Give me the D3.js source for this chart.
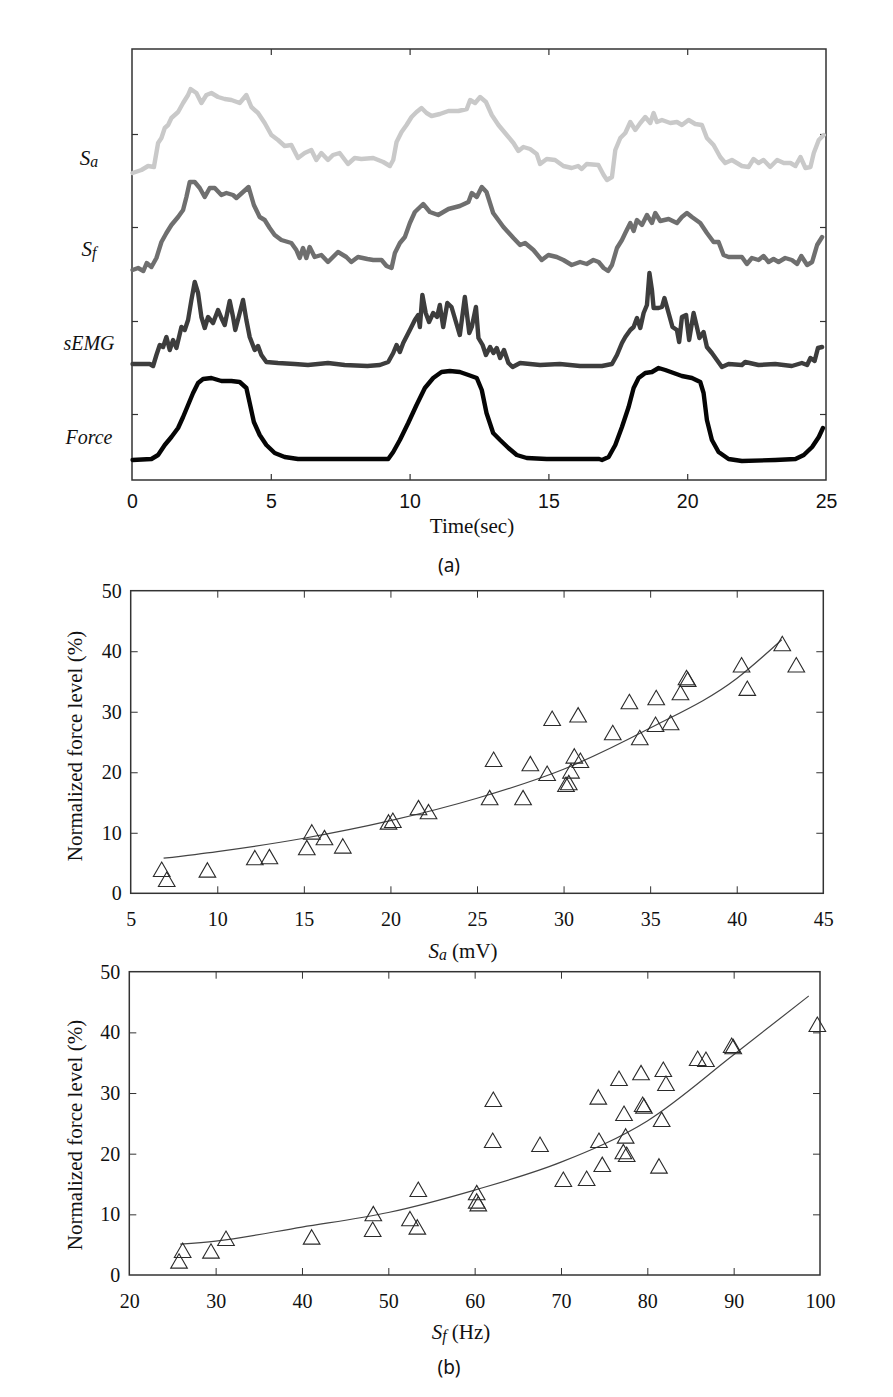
<!DOCTYPE html>
<html><head><meta charset="utf-8">
<script src="https://cdn.jsdelivr.net/npm/d3@7"></script>
<style>body{margin:0;background:#fff}svg{display:block}</style>
</head><body>
<svg id="c" width="893" height="1397"></svg>
<script>
// ---------- panel (a): time traces (arbitrary units) ----------
const timeTicks = [0, 5, 10, 15, 20, 25];
const traceTicks = [66, 159, 253, 346];
const saTrace = [[0.02,307],[0.34,310],[0.58,314],[0.79,313],[0.94,337],[1.06,342],[1.18,352],[1.30,355],[1.42,362],[1.66,368],[1.84,377],[2.02,385],[2.11,391],[2.32,387],[2.50,377],[2.68,385],[2.86,387],[3.10,383],[3.34,381],[3.58,380],[3.88,377],[4.12,385],[4.30,373],[4.54,367],[4.78,357],[5.02,345],[5.26,340],[5.50,334],[5.74,335],[5.98,322],[6.22,327],[6.46,330],[6.64,320],[6.82,327],[7.06,320],[7.24,325],[7.48,327],[7.78,316],[8.02,322],[8.26,321],[8.69,322],[9.05,318],[9.29,314],[9.41,320],[9.53,338],[9.71,348],[9.89,355],[10.07,363],[10.25,368],[10.43,372],[10.61,367],[10.79,364],[11.09,366],[11.40,369],[11.76,369],[12.06,371],[12.18,380],[12.36,377],[12.54,383],[12.75,378],[12.96,365],[13.20,355],[13.50,345],[13.74,337],[13.92,329],[14.10,333],[14.34,331],[14.58,326],[14.70,316],[14.94,321],[15.24,320],[15.54,314],[15.84,312],[16.07,314],[16.20,311],[16.38,316],[16.80,315],[16.99,305],[17.11,300],[17.29,303],[17.41,330],[17.59,342],[17.77,347],[17.95,358],[18.13,350],[18.31,357],[18.49,363],[18.67,357],[18.79,367],[18.91,358],[19.09,360],[19.39,357],[19.63,358],[19.81,355],[20.05,360],[20.29,356],[20.53,355],[20.71,342],[20.95,335],[21.19,323],[21.37,317],[21.61,320],[21.79,317],[21.97,314],[22.21,313],[22.39,321],[22.57,317],[22.75,320],[22.99,313],[23.24,320],[23.48,317],[23.72,317],[23.90,314],[24.08,323],[24.26,312],[24.44,313],[24.56,327],[24.74,340],[24.92,345]];
const sfTrace = [[0.02,210],[0.22,212],[0.41,209],[0.53,217],[0.70,213],[0.88,222],[1.06,238],[1.24,247],[1.42,255],[1.66,263],[1.84,270],[1.96,283],[2.08,298],[2.26,298],[2.44,292],[2.62,283],[2.80,292],[2.98,292],[3.22,285],[3.40,287],[3.64,285],[3.76,282],[4.00,288],[4.20,293],[4.39,275],[4.60,263],[4.78,260],[4.96,252],[5.14,245],[5.38,240],[5.74,237],[5.92,230],[6.04,222],[6.16,232],[6.28,222],[6.40,233],[6.58,223],[6.82,225],[7.06,218],[7.42,228],[7.72,223],[7.90,218],[8.14,223],[8.48,221],[8.69,220],[8.99,220],[9.17,214],[9.35,212],[9.47,227],[9.65,237],[9.83,243],[10.01,257],[10.19,268],[10.49,276],[10.73,268],[11.03,265],[11.40,271],[11.81,274],[12.12,278],[12.24,287],[12.42,283],[12.60,293],[12.77,288],[13.01,267],[13.38,253],[13.74,242],[13.98,235],[14.16,237],[14.46,230],[14.76,220],[15.00,225],[15.30,223],[15.54,220],[15.84,215],[16.14,218],[16.38,216],[16.62,220],[16.81,218],[16.99,212],[17.15,209],[17.29,215],[17.47,232],[17.65,240],[17.77,247],[17.95,257],[18.07,249],[18.19,260],[18.37,255],[18.55,265],[18.73,257],[18.85,267],[19.03,259],[19.33,261],[19.63,257],[19.81,263],[19.99,267],[20.17,263],[20.47,257],[20.71,247],[20.95,238],[21.13,238],[21.31,225],[21.49,223],[21.97,223],[22.15,216],[22.33,222],[22.57,220],[22.75,224],[22.93,218],[23.11,221],[23.29,218],[23.53,222],[23.77,220],[23.96,216],[24.11,224],[24.32,215],[24.50,218],[24.68,235],[24.86,243]];
const semgTrace = [[0.02,116],[0.64,116],[0.76,114],[0.88,125],[1.00,135],[1.12,133],[1.24,143],[1.36,130],[1.48,140],[1.60,132],[1.78,153],[1.90,150],[2.02,160],[2.14,180],[2.26,198],[2.38,187],[2.50,163],[2.62,152],[2.74,163],[2.92,157],[3.10,170],[3.22,162],[3.34,155],[3.52,179],[3.64,163],[3.72,150],[3.88,167],[4.00,180],[4.12,160],[4.24,143],[4.42,130],[4.54,134],[4.66,125],[4.84,118],[5.26,117],[5.86,116],[6.34,115],[7.06,117],[7.66,115],[8.48,114],[8.93,115],[9.23,118],[9.41,127],[9.53,135],[9.65,128],[9.77,137],[10.01,150],[10.19,160],[10.31,165],[10.37,153],[10.46,185],[10.58,167],[10.70,158],[10.85,167],[10.99,163],[11.09,175],[11.21,153],[11.36,177],[11.51,173],[11.67,158],[11.81,145],[11.99,183],[12.15,147],[12.24,153],[12.39,173],[12.48,142],[12.63,135],[12.75,125],[12.90,133],[13.02,127],[13.14,132],[13.26,122],[13.40,130],[13.56,117],[13.71,113],[13.98,117],[14.70,115],[15.41,116],[16.14,114],[16.93,114],[17.29,116],[17.47,125],[17.65,137],[17.77,143],[17.95,150],[18.07,153],[18.19,162],[18.31,152],[18.43,167],[18.55,175],[18.64,207],[18.73,190],[18.79,172],[18.97,172],[19.09,173],[19.18,182],[19.33,167],[19.47,153],[19.63,150],[19.71,138],[19.81,163],[19.96,165],[20.07,140],[20.23,167],[20.35,153],[20.44,142],[20.59,148],[20.71,133],[20.89,127],[21.07,120],[21.25,113],[21.49,116],[21.97,115],[22.09,118],[22.57,115],[23.17,116],[23.77,114],[24.13,117],[24.32,115],[24.44,122],[24.59,119],[24.71,132],[24.86,133]];
const forceTrace = [[0.02,20],[0.70,21],[0.94,25],[1.18,35],[1.42,43],[1.66,52],[1.84,63],[2.02,75],[2.20,87],[2.38,97],[2.56,101],[2.86,102],[3.22,99],[3.58,99],[3.88,98],[4.12,92],[4.24,77],[4.39,58],[4.60,45],[4.84,35],[5.14,27],[5.50,23],[5.98,21],[7.06,21],[8.48,21],[9.23,21],[9.41,28],[9.65,40],[9.95,57],[10.25,75],[10.55,92],[10.85,102],[11.15,108],[11.45,109],[11.81,108],[12.12,105],[12.42,102],[12.60,90],[12.77,67],[13.01,47],[13.26,40],[13.56,32],[13.86,25],[14.22,22],[14.94,21],[16.83,21],[16.93,20],[17.17,23],[17.41,35],[17.65,53],[17.89,73],[18.07,92],[18.25,102],[18.49,107],[18.73,108],[18.97,112],[19.21,110],[19.51,107],[19.81,104],[20.17,102],[20.47,98],[20.59,87],[20.71,60],[20.89,40],[21.13,28],[21.49,21],[21.97,19],[23.17,20],[23.90,21],[24.20,25],[24.50,33],[24.74,43],[24.89,52]];

// ---------- panel (b) scatter data ----------
const forceTicks = [0, 10, 20, 30, 40, 50];
const saTicks = [5, 10, 15, 20, 25, 30, 35, 40, 45];
const sfTicks = [20, 30, 40, 50, 60, 70, 80, 90, 100];
const saX = [6.79,7.08,9.43,12.17,13.01,15.46,15.17,16.19,17.25,19.89,20.14,21.62,22.2,25.73,25.96,27.66,28.08,29.05,29.34,30.84,30.14,30.3,30.43,30.62,30.97,32.84,33.8,34.4,35.35,35.31,36.18,36.75,37.1,37.17,40.28,40.61,42.63,43.44];
const saY = [3.57,1.92,3.47,5.5,5.67,9.75,7.16,8.81,7.44,11.4,11.67,13.77,13.1,15.42,21.75,15.42,21.04,19.44,28.53,29.09,17.62,17.9,19.83,22.31,21.59,26.17,31.29,25.34,31.95,27.54,27.82,32.78,35.26,34.98,37.36,33.49,40.88,37.36];
const saFit = [[6.9,5.8],[10,6.9],[15,9.1],[20,12.0],[25,15.7],[30,20.5],[35,27.3],[40,35.5],[42.6,41.9]];
const sfX = [25.76,26.18,29.46,31.2,41.12,48.26,48.19,52.51,53.36,53.47,60.24,60.24,60.42,62.16,62.09,67.57,70.27,72.97,74.32,74.4,74.78,76.72,77.3,77.49,77.22,77.61,79.27,79.46,79.61,81.35,81.66,81.85,82.16,85.83,86.79,89.77,89.95,99.69];
const sfY = [1.92,3.68,3.57,5.66,5.88,9.73,7.14,8.9,7.53,13.74,13.19,11.82,11.37,28.57,21.81,21.15,15.38,15.55,28.96,21.81,17.85,32.03,26.26,22.53,19.95,19.51,32.97,27.75,27.47,17.59,25.27,33.52,31.21,35.33,35.17,37.48,37.26,40.94];
const sfFit = [[25.9,5.1],[30,5.6],[40,7.9],[50,10.3],[60,14.0],[70,18.6],[80,25.4],[90,36.3],[98.7,46.0]];

const svg = d3.select("#c");
const serif = "'Liberation Serif','Times New Roman',serif";
const sans = "'Liberation Sans',Arial,sans-serif";
const frameCol = "#333";

// ===== Panel (a) =====
const xA = d3.scaleLinear().domain([0,25]).range([132,826]);
const yA = d3.scaleLinear().domain([0,431]).range([480,49]);
const gA = svg.append("g");
gA.append("rect").attr("x",132).attr("y",49).attr("width",694).attr("height",431)
  .attr("fill","none").attr("stroke",frameCol).attr("stroke-width",1.5);
const innerT = timeTicks.filter(d=>d>0&&d<25);
gA.append("g").attr("transform","translate(0,480)")
  .call(d3.axisBottom(xA).tickValues(timeTicks).tickSize(-6).tickPadding(14))
  .call(g=>{g.select(".domain").remove();
    g.selectAll(".tick line").attr("stroke",frameCol).attr("stroke-width",1.2).filter(d=>d===0||d===25).remove();
    g.selectAll("text").attr("font-family",sans).attr("font-size",19.5).attr("fill","#111");});
gA.append("g").attr("transform","translate(0,49)")
  .call(d3.axisTop(xA).tickValues(innerT).tickSize(-6).tickFormat(""))
  .call(g=>{g.select(".domain").remove();g.selectAll(".tick line").attr("stroke",frameCol).attr("stroke-width",1.2);});
gA.append("g").attr("transform","translate(132,0)")
  .call(d3.axisLeft(yA).tickValues(traceTicks).tickSize(-6).tickFormat(""))
  .call(g=>{g.select(".domain").remove();g.selectAll(".tick line").attr("stroke",frameCol).attr("stroke-width",1.2);});
gA.append("g").attr("transform","translate(826,0)")
  .call(d3.axisRight(yA).tickValues(traceTicks).tickSize(-6).tickFormat(""))
  .call(g=>{g.select(".domain").remove();g.selectAll(".tick line").attr("stroke",frameCol).attr("stroke-width",1.2);});

const lineA = d3.line().x(d=>xA(d[0])).y(d=>yA(d[1]));
const traces = [
  {data:saTrace, color:"#c9c9c9"},
  {data:sfTrace, color:"#6f6f6f"},
  {data:semgTrace, color:"#3d3d3d"},
  {data:forceTrace, color:"#050505"}
];
traces.forEach(t=>{
  gA.append("path").attr("d",lineA(t.data)).attr("fill","none").attr("stroke",t.color)
    .attr("stroke-width",4.4).attr("stroke-linejoin","round").attr("stroke-linecap","round");
});

function subLabel(g, x, y, main, sub, size, anchor, rest){
  const t = g.append("text").attr("x",x).attr("y",y).attr("text-anchor",anchor||"middle")
    .attr("font-family",serif).attr("font-size",size).attr("fill","#111");
  t.append("tspan").attr("font-style","italic").text(main);
  t.append("tspan").attr("font-style","italic").attr("font-size",size*0.75).attr("dy",2).text(sub);
  if(rest) t.append("tspan").attr("dy",-2).text(rest);
  return t;
}
subLabel(gA, 89, 165, "S", "a", 21);
subLabel(gA, 89, 256, "S", "f", 21);
gA.append("text").attr("x",89).attr("y",350).attr("text-anchor","middle").attr("font-family",serif)
  .attr("font-style","italic").attr("font-size",20).attr("fill","#111").text("sEMG");
gA.append("text").attr("x",89).attr("y",444).attr("text-anchor","middle").attr("font-family",serif)
  .attr("font-style","italic").attr("font-size",20).attr("fill","#111").text("Force");
gA.append("text").attr("x",472).attr("y",533).attr("text-anchor","middle").attr("font-family",serif)
  .attr("font-size",21).attr("fill","#111").text("Time(sec)");
svg.append("text").attr("x",449).attr("y",572).attr("text-anchor","middle").attr("font-family","'Noto Sans',sans-serif")
  .attr("font-size",19).attr("fill","#111").text("(a)");

// ===== Scatter panels =====
function scatter(opts){
  const {x0,x1,y0,y1,xDom,xTicks,xs,ys,fit,ylabelY,xlab,sub,rest,xlabX,xlabY} = opts;
  const x = d3.scaleLinear().domain(xDom).range([x0,x1]);
  const y = d3.scaleLinear().domain([0,50]).range([y0,y1]);
  const g = svg.append("g");
  g.append("rect").attr("x",x0).attr("y",y1).attr("width",x1-x0).attr("height",y0-y1)
    .attr("fill","none").attr("stroke",frameCol).attr("stroke-width",1.5);
  const innerX = xTicks.slice(1,-1), innerY = forceTicks.slice(1,-1);
  g.append("g").attr("transform",`translate(0,${y0})`)
    .call(d3.axisBottom(x).tickValues(xTicks).tickSize(-7).tickPadding(19))
    .call(a=>{a.select(".domain").remove();
      a.selectAll(".tick line").attr("stroke",frameCol).filter((d,i)=>i===0||i===xTicks.length-1).remove();
      a.selectAll("text").attr("font-family",serif).attr("font-size",20).attr("fill","#111");});
  g.append("g").attr("transform",`translate(0,${y1})`)
    .call(d3.axisTop(x).tickValues(innerX).tickSize(-7).tickFormat(""))
    .call(a=>{a.select(".domain").remove();a.selectAll(".tick line").attr("stroke",frameCol);});
  g.append("g").attr("transform",`translate(${x0},0)`)
    .call(d3.axisLeft(y).tickValues(forceTicks).tickSize(-7).tickPadding(9))
    .call(a=>{a.select(".domain").remove();
      a.selectAll(".tick line").attr("stroke",frameCol).filter(d=>d===0||d===50).remove();
      a.selectAll("text").attr("font-family",serif).attr("font-size",20).attr("fill","#111");});
  g.append("g").attr("transform",`translate(${x1},0)`)
    .call(d3.axisRight(y).tickValues(innerY).tickSize(-7).tickFormat(""))
    .call(a=>{a.select(".domain").remove();a.selectAll(".tick line").attr("stroke",frameCol);});
  g.append("path").attr("d",d3.line().curve(d3.curveMonotoneX).x(d=>x(d[0])).y(d=>y(d[1]))(fit))
    .attr("fill","none").attr("stroke","#444").attr("stroke-width",1.2);
  const sym = d3.symbol().type(d3.symbolTriangle).size(120);
  g.selectAll("path.pt").data(xs.map((v,i)=>[v,ys[i]])).join("path").attr("class","pt")
    .attr("transform",d=>`translate(${x(d[0])},${y(d[1])})`).attr("d",sym())
    .attr("fill","none").attr("stroke","#2a2a2a").attr("stroke-width",1.1);
  g.append("text").attr("transform",`translate(82,${ylabelY}) rotate(-90)`).attr("text-anchor","middle")
    .attr("font-family",serif).attr("font-size",21).attr("fill","#111").text("Normalized force level (%)");
  subLabel(g, xlabX, xlabY, xlab, sub, 21, "middle", rest);
}
scatter({x0:130.7,x1:823.3,y0:893.3,y1:590.7,xDom:[5,45],xTicks:saTicks,xs:saX,ys:saY,fit:saFit,
  ylabelY:746,xlab:"S",sub:"a",rest:" (mV)",xlabX:463,xlabY:958});
scatter({x0:129.3,x1:820,y0:1275,y1:971.7,xDom:[20,100],xTicks:sfTicks,xs:sfX,ys:sfY,fit:sfFit,
  ylabelY:1135,xlab:"S",sub:"f",rest:" (Hz)",xlabX:461,xlabY:1339});
svg.append("text").attr("x",449).attr("y",1374).attr("text-anchor","middle").attr("font-family","'Noto Sans',sans-serif")
  .attr("font-size",19).attr("fill","#111").text("(b)");
</script>
</body></html>
